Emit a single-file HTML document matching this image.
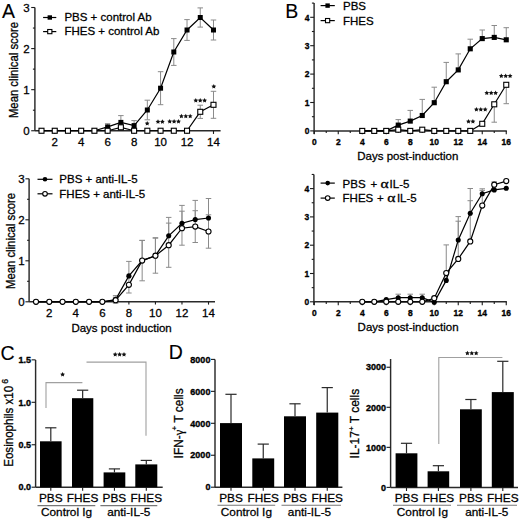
<!DOCTYPE html><html><head><meta charset="utf-8"><style>html,body{margin:0;padding:0;background:#fff;}svg{display:block;} text{stroke:#000;stroke-width:0.28px;} text.b{stroke-width:0.35px;} text.n{stroke-width:0.1px;}</style></head><body>
<svg width="520" height="520" viewBox="0 0 520 520" font-family='"Liberation Sans", sans-serif' fill="#000">
<rect width="520" height="520" fill="#fff"/>
<text x="2.00" y="17.50" font-size="19.5" text-anchor="start" font-weight="normal" class="n">A</text>
<line x1="34.90" y1="7.51" x2="34.90" y2="130.75" stroke="#2a2a2a" stroke-width="1.45"/>
<line x1="31.20" y1="130.75" x2="34.90" y2="130.75" stroke="#1a1a1a" stroke-width="1.1"/>
<text x="29.60" y="134.85" font-size="11.5" text-anchor="end" font-weight="normal" >0</text>
<line x1="31.20" y1="89.67" x2="34.90" y2="89.67" stroke="#1a1a1a" stroke-width="1.1"/>
<text x="29.60" y="93.77" font-size="11.5" text-anchor="end" font-weight="normal" >1</text>
<line x1="31.20" y1="48.59" x2="34.90" y2="48.59" stroke="#1a1a1a" stroke-width="1.1"/>
<text x="29.60" y="52.69" font-size="11.5" text-anchor="end" font-weight="normal" >2</text>
<line x1="31.20" y1="7.51" x2="34.90" y2="7.51" stroke="#1a1a1a" stroke-width="1.1"/>
<text x="29.60" y="11.61" font-size="11.5" text-anchor="end" font-weight="normal" >3</text>
<line x1="32.90" y1="110.21" x2="34.90" y2="110.21" stroke="#1a1a1a" stroke-width="1.1"/>
<line x1="32.90" y1="69.13" x2="34.90" y2="69.13" stroke="#1a1a1a" stroke-width="1.1"/>
<line x1="32.90" y1="28.05" x2="34.90" y2="28.05" stroke="#1a1a1a" stroke-width="1.1"/>
<line x1="34.90" y1="130.75" x2="220.60" y2="130.75" stroke="#2a2a2a" stroke-width="1.45"/>
<line x1="54.73" y1="130.75" x2="54.73" y2="133.95" stroke="#1a1a1a" stroke-width="1.1"/>
<text x="54.73" y="146.30" font-size="11.5" text-anchor="middle" font-weight="normal" >2</text>
<line x1="81.19" y1="130.75" x2="81.19" y2="133.95" stroke="#1a1a1a" stroke-width="1.1"/>
<text x="81.19" y="146.30" font-size="11.5" text-anchor="middle" font-weight="normal" >4</text>
<line x1="107.65" y1="130.75" x2="107.65" y2="133.95" stroke="#1a1a1a" stroke-width="1.1"/>
<text x="107.65" y="146.30" font-size="11.5" text-anchor="middle" font-weight="normal" >6</text>
<line x1="134.11" y1="130.75" x2="134.11" y2="133.95" stroke="#1a1a1a" stroke-width="1.1"/>
<text x="134.11" y="146.30" font-size="11.5" text-anchor="middle" font-weight="normal" >8</text>
<line x1="160.57" y1="130.75" x2="160.57" y2="133.95" stroke="#1a1a1a" stroke-width="1.1"/>
<text x="160.57" y="146.30" font-size="11.5" text-anchor="middle" font-weight="normal" >10</text>
<line x1="187.03" y1="130.75" x2="187.03" y2="133.95" stroke="#1a1a1a" stroke-width="1.1"/>
<text x="187.03" y="146.30" font-size="11.5" text-anchor="middle" font-weight="normal" >12</text>
<line x1="213.49" y1="130.75" x2="213.49" y2="133.95" stroke="#1a1a1a" stroke-width="1.1"/>
<text x="213.49" y="146.30" font-size="11.5" text-anchor="middle" font-weight="normal" >14</text>
<text x="0.00" y="0.00" font-size="12.1" text-anchor="middle" font-weight="normal" transform="translate(18.2,70) rotate(-90) scale(0.935,1)">Mean clinical score</text>
<line x1="43.10" y1="17.50" x2="56.30" y2="17.50" stroke="#000" stroke-width="1.2"/>
<rect x="47.60" y="15.30" width="4.4" height="4.4" fill="#000"/>
<text x="64.40" y="21.20" font-size="11.5" text-anchor="start" font-weight="normal" >PBS + control Ab</text>
<line x1="43.10" y1="31.60" x2="56.30" y2="31.60" stroke="#000" stroke-width="1.2"/>
<rect x="47.70" y="29.50" width="4.2" height="4.2" fill="#fff" stroke="#000" stroke-width="1.1"/>
<text x="64.40" y="35.10" font-size="11.5" text-anchor="start" font-weight="normal" >FHES + control Ab</text>
<line x1="107.65" y1="126.90" x2="107.65" y2="123.70" stroke="#8a8a8a" stroke-width="1.0"/>
<line x1="104.90" y1="123.70" x2="110.40" y2="123.70" stroke="#8a8a8a" stroke-width="1.0"/>
<line x1="107.65" y1="126.90" x2="107.65" y2="130.10" stroke="#8a8a8a" stroke-width="1.0"/>
<line x1="104.90" y1="130.10" x2="110.40" y2="130.10" stroke="#8a8a8a" stroke-width="1.0"/>
<line x1="120.88" y1="122.40" x2="120.88" y2="115.60" stroke="#8a8a8a" stroke-width="1.0"/>
<line x1="118.13" y1="115.60" x2="123.63" y2="115.60" stroke="#8a8a8a" stroke-width="1.0"/>
<line x1="120.88" y1="122.40" x2="120.88" y2="129.20" stroke="#8a8a8a" stroke-width="1.0"/>
<line x1="118.13" y1="129.20" x2="123.63" y2="129.20" stroke="#8a8a8a" stroke-width="1.0"/>
<line x1="134.11" y1="125.60" x2="134.11" y2="120.60" stroke="#8a8a8a" stroke-width="1.0"/>
<line x1="131.36" y1="120.60" x2="136.86" y2="120.60" stroke="#8a8a8a" stroke-width="1.0"/>
<line x1="134.11" y1="125.60" x2="134.11" y2="130.60" stroke="#8a8a8a" stroke-width="1.0"/>
<line x1="131.36" y1="130.60" x2="136.86" y2="130.60" stroke="#8a8a8a" stroke-width="1.0"/>
<line x1="147.34" y1="110.00" x2="147.34" y2="100.20" stroke="#8a8a8a" stroke-width="1.0"/>
<line x1="144.59" y1="100.20" x2="150.09" y2="100.20" stroke="#8a8a8a" stroke-width="1.0"/>
<line x1="147.34" y1="110.00" x2="147.34" y2="119.80" stroke="#8a8a8a" stroke-width="1.0"/>
<line x1="144.59" y1="119.80" x2="150.09" y2="119.80" stroke="#8a8a8a" stroke-width="1.0"/>
<line x1="160.57" y1="88.20" x2="160.57" y2="71.70" stroke="#8a8a8a" stroke-width="1.0"/>
<line x1="157.82" y1="71.70" x2="163.32" y2="71.70" stroke="#8a8a8a" stroke-width="1.0"/>
<line x1="160.57" y1="88.20" x2="160.57" y2="104.70" stroke="#8a8a8a" stroke-width="1.0"/>
<line x1="157.82" y1="104.70" x2="163.32" y2="104.70" stroke="#8a8a8a" stroke-width="1.0"/>
<line x1="173.80" y1="52.00" x2="173.80" y2="38.60" stroke="#8a8a8a" stroke-width="1.0"/>
<line x1="171.05" y1="38.60" x2="176.55" y2="38.60" stroke="#8a8a8a" stroke-width="1.0"/>
<line x1="173.80" y1="52.00" x2="173.80" y2="65.40" stroke="#8a8a8a" stroke-width="1.0"/>
<line x1="171.05" y1="65.40" x2="176.55" y2="65.40" stroke="#8a8a8a" stroke-width="1.0"/>
<line x1="187.03" y1="30.00" x2="187.03" y2="19.60" stroke="#8a8a8a" stroke-width="1.0"/>
<line x1="184.28" y1="19.60" x2="189.78" y2="19.60" stroke="#8a8a8a" stroke-width="1.0"/>
<line x1="187.03" y1="30.00" x2="187.03" y2="40.40" stroke="#8a8a8a" stroke-width="1.0"/>
<line x1="184.28" y1="40.40" x2="189.78" y2="40.40" stroke="#8a8a8a" stroke-width="1.0"/>
<line x1="200.26" y1="17.50" x2="200.26" y2="7.90" stroke="#8a8a8a" stroke-width="1.0"/>
<line x1="197.51" y1="7.90" x2="203.01" y2="7.90" stroke="#8a8a8a" stroke-width="1.0"/>
<line x1="200.26" y1="17.50" x2="200.26" y2="27.10" stroke="#8a8a8a" stroke-width="1.0"/>
<line x1="197.51" y1="27.10" x2="203.01" y2="27.10" stroke="#8a8a8a" stroke-width="1.0"/>
<line x1="213.49" y1="30.00" x2="213.49" y2="20.00" stroke="#8a8a8a" stroke-width="1.0"/>
<line x1="210.74" y1="20.00" x2="216.24" y2="20.00" stroke="#8a8a8a" stroke-width="1.0"/>
<line x1="213.49" y1="30.00" x2="213.49" y2="40.00" stroke="#8a8a8a" stroke-width="1.0"/>
<line x1="210.74" y1="40.00" x2="216.24" y2="40.00" stroke="#8a8a8a" stroke-width="1.0"/>
<line x1="200.26" y1="111.80" x2="200.26" y2="105.20" stroke="#8a8a8a" stroke-width="1.0"/>
<line x1="197.51" y1="105.20" x2="203.01" y2="105.20" stroke="#8a8a8a" stroke-width="1.0"/>
<line x1="200.26" y1="111.80" x2="200.26" y2="118.40" stroke="#8a8a8a" stroke-width="1.0"/>
<line x1="197.51" y1="118.40" x2="203.01" y2="118.40" stroke="#8a8a8a" stroke-width="1.0"/>
<line x1="213.49" y1="104.80" x2="213.49" y2="91.30" stroke="#8a8a8a" stroke-width="1.0"/>
<line x1="210.74" y1="91.30" x2="216.24" y2="91.30" stroke="#8a8a8a" stroke-width="1.0"/>
<line x1="213.49" y1="104.80" x2="213.49" y2="118.30" stroke="#8a8a8a" stroke-width="1.0"/>
<line x1="210.74" y1="118.30" x2="216.24" y2="118.30" stroke="#8a8a8a" stroke-width="1.0"/>
<polyline points="41.50,130.75 54.73,130.75 67.96,130.75 81.19,130.75 94.42,130.75 107.65,126.90 120.88,122.40 134.11,125.60 147.34,110.00 160.57,88.20 173.80,52.00 187.03,30.00 200.26,17.50 213.49,30.00" fill="none" stroke="#000" stroke-width="1.2" stroke-linejoin="miter"/>
<polyline points="41.50,130.75 54.73,130.75 67.96,130.75 81.19,130.75 94.42,130.75 107.65,130.75 120.88,127.30 134.11,130.75 147.34,130.75 160.57,130.75 173.80,130.75 187.03,130.75 200.26,111.80 213.49,104.80" fill="none" stroke="#000" stroke-width="1.2" stroke-linejoin="miter"/>
<rect x="39.00" y="128.25" width="5.0" height="5.0" fill="#000"/>
<rect x="52.23" y="128.25" width="5.0" height="5.0" fill="#000"/>
<rect x="65.46" y="128.25" width="5.0" height="5.0" fill="#000"/>
<rect x="78.69" y="128.25" width="5.0" height="5.0" fill="#000"/>
<rect x="91.92" y="128.25" width="5.0" height="5.0" fill="#000"/>
<rect x="105.15" y="124.40" width="5.0" height="5.0" fill="#000"/>
<rect x="118.38" y="119.90" width="5.0" height="5.0" fill="#000"/>
<rect x="131.61" y="123.10" width="5.0" height="5.0" fill="#000"/>
<rect x="144.84" y="107.50" width="5.0" height="5.0" fill="#000"/>
<rect x="158.07" y="85.70" width="5.0" height="5.0" fill="#000"/>
<rect x="171.30" y="49.50" width="5.0" height="5.0" fill="#000"/>
<rect x="184.53" y="27.50" width="5.0" height="5.0" fill="#000"/>
<rect x="197.76" y="15.00" width="5.0" height="5.0" fill="#000"/>
<rect x="210.99" y="27.50" width="5.0" height="5.0" fill="#000"/>
<rect x="39.00" y="128.25" width="5.0" height="5.0" fill="#fff" stroke="#000" stroke-width="1.1"/>
<rect x="52.23" y="128.25" width="5.0" height="5.0" fill="#fff" stroke="#000" stroke-width="1.1"/>
<rect x="65.46" y="128.25" width="5.0" height="5.0" fill="#fff" stroke="#000" stroke-width="1.1"/>
<rect x="78.69" y="128.25" width="5.0" height="5.0" fill="#fff" stroke="#000" stroke-width="1.1"/>
<rect x="91.92" y="128.25" width="5.0" height="5.0" fill="#fff" stroke="#000" stroke-width="1.1"/>
<rect x="105.15" y="128.25" width="5.0" height="5.0" fill="#fff" stroke="#000" stroke-width="1.1"/>
<rect x="118.38" y="124.80" width="5.0" height="5.0" fill="#fff" stroke="#000" stroke-width="1.1"/>
<rect x="131.61" y="128.25" width="5.0" height="5.0" fill="#fff" stroke="#000" stroke-width="1.1"/>
<rect x="144.84" y="128.25" width="5.0" height="5.0" fill="#fff" stroke="#000" stroke-width="1.1"/>
<rect x="158.07" y="128.25" width="5.0" height="5.0" fill="#fff" stroke="#000" stroke-width="1.1"/>
<rect x="171.30" y="128.25" width="5.0" height="5.0" fill="#fff" stroke="#000" stroke-width="1.1"/>
<rect x="184.53" y="128.25" width="5.0" height="5.0" fill="#fff" stroke="#000" stroke-width="1.1"/>
<rect x="197.76" y="109.30" width="5.0" height="5.0" fill="#fff" stroke="#000" stroke-width="1.1"/>
<rect x="210.99" y="102.30" width="5.0" height="5.0" fill="#fff" stroke="#000" stroke-width="1.1"/>
<polygon points="147.20,121.00 147.93,122.49 149.58,122.73 148.39,123.89 148.67,125.52 147.20,124.75 145.73,125.52 146.01,123.89 144.82,122.73 146.47,122.49" fill="#111"/>
<polygon points="158.00,119.30 158.73,120.79 160.38,121.03 159.19,122.19 159.47,123.82 158.00,123.05 156.53,123.82 156.81,122.19 155.62,121.03 157.27,120.79" fill="#111"/>
<polygon points="162.40,119.30 163.13,120.79 164.78,121.03 163.59,122.19 163.87,123.82 162.40,123.05 160.93,123.82 161.21,122.19 160.02,121.03 161.67,120.79" fill="#111"/>
<polygon points="169.70,119.00 170.43,120.49 172.08,120.73 170.89,121.89 171.17,123.52 169.70,122.75 168.23,123.52 168.51,121.89 167.32,120.73 168.97,120.49" fill="#111"/>
<polygon points="174.10,119.00 174.83,120.49 176.48,120.73 175.29,121.89 175.57,123.52 174.10,122.75 172.63,123.52 172.91,121.89 171.72,120.73 173.37,120.49" fill="#111"/>
<polygon points="178.50,119.00 179.23,120.49 180.88,120.73 179.69,121.89 179.97,123.52 178.50,122.75 177.03,123.52 177.31,121.89 176.12,120.73 177.77,120.49" fill="#111"/>
<polygon points="181.40,113.70 182.13,115.19 183.78,115.43 182.59,116.59 182.87,118.22 181.40,117.45 179.93,118.22 180.21,116.59 179.02,115.43 180.67,115.19" fill="#111"/>
<polygon points="185.80,113.70 186.53,115.19 188.18,115.43 186.99,116.59 187.27,118.22 185.80,117.45 184.33,118.22 184.61,116.59 183.42,115.43 185.07,115.19" fill="#111"/>
<polygon points="190.20,113.70 190.93,115.19 192.58,115.43 191.39,116.59 191.67,118.22 190.20,117.45 188.73,118.22 189.01,116.59 187.82,115.43 189.47,115.19" fill="#111"/>
<polygon points="195.80,98.00 196.53,99.49 198.18,99.73 196.99,100.89 197.27,102.52 195.80,101.75 194.33,102.52 194.61,100.89 193.42,99.73 195.07,99.49" fill="#111"/>
<polygon points="200.20,98.00 200.93,99.49 202.58,99.73 201.39,100.89 201.67,102.52 200.20,101.75 198.73,102.52 199.01,100.89 197.82,99.73 199.47,99.49" fill="#111"/>
<polygon points="204.60,98.00 205.33,99.49 206.98,99.73 205.79,100.89 206.07,102.52 204.60,101.75 203.13,102.52 203.41,100.89 202.22,99.73 203.87,99.49" fill="#111"/>
<polygon points="213.80,84.00 214.53,85.49 216.18,85.73 214.99,86.89 215.27,88.52 213.80,87.75 212.33,88.52 212.61,86.89 211.42,85.73 213.07,85.49" fill="#111"/>
<text x="285.20" y="17.60" font-size="19.5" text-anchor="start" font-weight="normal" class="n">B</text>
<line x1="314.10" y1="3.10" x2="314.10" y2="134.10" stroke="#2a2a2a" stroke-width="1.45"/>
<line x1="310.20" y1="130.90" x2="314.10" y2="130.90" stroke="#1a1a1a" stroke-width="1.1"/>
<text transform="translate(309.50,134.10) scale(0.88,1)" font-size="9.6" text-anchor="end" font-weight="bold" class="b">0</text>
<line x1="310.20" y1="102.50" x2="314.10" y2="102.50" stroke="#1a1a1a" stroke-width="1.1"/>
<text transform="translate(309.50,105.70) scale(0.88,1)" font-size="9.6" text-anchor="end" font-weight="bold" class="b">1</text>
<line x1="310.20" y1="74.10" x2="314.10" y2="74.10" stroke="#1a1a1a" stroke-width="1.1"/>
<text transform="translate(309.50,77.30) scale(0.88,1)" font-size="9.6" text-anchor="end" font-weight="bold" class="b">2</text>
<line x1="310.20" y1="45.70" x2="314.10" y2="45.70" stroke="#1a1a1a" stroke-width="1.1"/>
<text transform="translate(309.50,48.90) scale(0.88,1)" font-size="9.6" text-anchor="end" font-weight="bold" class="b">3</text>
<line x1="310.20" y1="17.30" x2="314.10" y2="17.30" stroke="#1a1a1a" stroke-width="1.1"/>
<text transform="translate(309.50,20.50) scale(0.88,1)" font-size="9.6" text-anchor="end" font-weight="bold" class="b">4</text>
<line x1="311.90" y1="116.70" x2="314.10" y2="116.70" stroke="#1a1a1a" stroke-width="1.1"/>
<line x1="311.90" y1="88.30" x2="314.10" y2="88.30" stroke="#1a1a1a" stroke-width="1.1"/>
<line x1="311.90" y1="59.90" x2="314.10" y2="59.90" stroke="#1a1a1a" stroke-width="1.1"/>
<line x1="311.90" y1="31.50" x2="314.10" y2="31.50" stroke="#1a1a1a" stroke-width="1.1"/>
<line x1="311.90" y1="3.10" x2="314.10" y2="3.10" stroke="#1a1a1a" stroke-width="1.1"/>
<line x1="314.10" y1="130.90" x2="506.85" y2="130.90" stroke="#2a2a2a" stroke-width="1.45"/>
<line x1="314.25" y1="130.90" x2="314.25" y2="134.30" stroke="#1a1a1a" stroke-width="1.1"/>
<text transform="translate(314.25,145.00) scale(0.88,1)" font-size="9.6" text-anchor="middle" font-weight="bold" class="b">0</text>
<line x1="326.25" y1="130.90" x2="326.25" y2="133.10" stroke="#1a1a1a" stroke-width="1.1"/>
<line x1="338.25" y1="130.90" x2="338.25" y2="134.30" stroke="#1a1a1a" stroke-width="1.1"/>
<text transform="translate(338.25,145.00) scale(0.88,1)" font-size="9.6" text-anchor="middle" font-weight="bold" class="b">2</text>
<line x1="350.25" y1="130.90" x2="350.25" y2="133.10" stroke="#1a1a1a" stroke-width="1.1"/>
<line x1="362.25" y1="130.90" x2="362.25" y2="134.30" stroke="#1a1a1a" stroke-width="1.1"/>
<text transform="translate(362.25,145.00) scale(0.88,1)" font-size="9.6" text-anchor="middle" font-weight="bold" class="b">4</text>
<line x1="374.25" y1="130.90" x2="374.25" y2="133.10" stroke="#1a1a1a" stroke-width="1.1"/>
<line x1="386.25" y1="130.90" x2="386.25" y2="134.30" stroke="#1a1a1a" stroke-width="1.1"/>
<text transform="translate(386.25,145.00) scale(0.88,1)" font-size="9.6" text-anchor="middle" font-weight="bold" class="b">6</text>
<line x1="398.25" y1="130.90" x2="398.25" y2="133.10" stroke="#1a1a1a" stroke-width="1.1"/>
<line x1="410.25" y1="130.90" x2="410.25" y2="134.30" stroke="#1a1a1a" stroke-width="1.1"/>
<text transform="translate(410.25,145.00) scale(0.88,1)" font-size="9.6" text-anchor="middle" font-weight="bold" class="b">8</text>
<line x1="422.25" y1="130.90" x2="422.25" y2="133.10" stroke="#1a1a1a" stroke-width="1.1"/>
<line x1="434.25" y1="130.90" x2="434.25" y2="134.30" stroke="#1a1a1a" stroke-width="1.1"/>
<text transform="translate(434.25,145.00) scale(0.88,1)" font-size="9.6" text-anchor="middle" font-weight="bold" class="b">10</text>
<line x1="446.25" y1="130.90" x2="446.25" y2="133.10" stroke="#1a1a1a" stroke-width="1.1"/>
<line x1="458.25" y1="130.90" x2="458.25" y2="134.30" stroke="#1a1a1a" stroke-width="1.1"/>
<text transform="translate(458.25,145.00) scale(0.88,1)" font-size="9.6" text-anchor="middle" font-weight="bold" class="b">12</text>
<line x1="470.25" y1="130.90" x2="470.25" y2="133.10" stroke="#1a1a1a" stroke-width="1.1"/>
<line x1="482.25" y1="130.90" x2="482.25" y2="134.30" stroke="#1a1a1a" stroke-width="1.1"/>
<text transform="translate(482.25,145.00) scale(0.88,1)" font-size="9.6" text-anchor="middle" font-weight="bold" class="b">14</text>
<line x1="494.25" y1="130.90" x2="494.25" y2="133.10" stroke="#1a1a1a" stroke-width="1.1"/>
<line x1="506.25" y1="130.90" x2="506.25" y2="134.30" stroke="#1a1a1a" stroke-width="1.1"/>
<text transform="translate(506.25,145.00) scale(0.88,1)" font-size="9.6" text-anchor="middle" font-weight="bold" class="b">16</text>
<text x="357.30" y="159.90" font-size="11.5" text-anchor="start" font-weight="normal" >Days post-induction</text>
<line x1="320.60" y1="5.60" x2="334.80" y2="5.60" stroke="#000" stroke-width="1.2"/>
<rect x="325.40" y="3.40" width="4.4" height="4.4" fill="#000"/>
<text x="343.00" y="9.60" font-size="11.5" text-anchor="start" font-weight="normal" >PBS</text>
<line x1="320.60" y1="20.60" x2="334.80" y2="20.60" stroke="#000" stroke-width="1.2"/>
<rect x="325.50" y="18.50" width="4.2" height="4.2" fill="#fff" stroke="#000" stroke-width="1.1"/>
<text x="343.00" y="24.60" font-size="11.5" text-anchor="start" font-weight="normal" >FHES</text>
<line x1="398.25" y1="125.10" x2="398.25" y2="119.60" stroke="#8a8a8a" stroke-width="1.0"/>
<line x1="395.50" y1="119.60" x2="401.00" y2="119.60" stroke="#8a8a8a" stroke-width="1.0"/>
<line x1="410.25" y1="121.10" x2="410.25" y2="110.40" stroke="#8a8a8a" stroke-width="1.0"/>
<line x1="407.50" y1="110.40" x2="413.00" y2="110.40" stroke="#8a8a8a" stroke-width="1.0"/>
<line x1="422.25" y1="115.50" x2="422.25" y2="99.40" stroke="#8a8a8a" stroke-width="1.0"/>
<line x1="419.50" y1="99.40" x2="425.00" y2="99.40" stroke="#8a8a8a" stroke-width="1.0"/>
<line x1="434.25" y1="102.70" x2="434.25" y2="87.20" stroke="#8a8a8a" stroke-width="1.0"/>
<line x1="431.50" y1="87.20" x2="437.00" y2="87.20" stroke="#8a8a8a" stroke-width="1.0"/>
<line x1="446.25" y1="81.70" x2="446.25" y2="62.40" stroke="#8a8a8a" stroke-width="1.0"/>
<line x1="443.50" y1="62.40" x2="449.00" y2="62.40" stroke="#8a8a8a" stroke-width="1.0"/>
<line x1="458.25" y1="69.90" x2="458.25" y2="53.90" stroke="#8a8a8a" stroke-width="1.0"/>
<line x1="455.50" y1="53.90" x2="461.00" y2="53.90" stroke="#8a8a8a" stroke-width="1.0"/>
<line x1="470.25" y1="48.80" x2="470.25" y2="39.20" stroke="#8a8a8a" stroke-width="1.0"/>
<line x1="467.50" y1="39.20" x2="473.00" y2="39.20" stroke="#8a8a8a" stroke-width="1.0"/>
<line x1="482.25" y1="38.60" x2="482.25" y2="30.00" stroke="#8a8a8a" stroke-width="1.0"/>
<line x1="479.50" y1="30.00" x2="485.00" y2="30.00" stroke="#8a8a8a" stroke-width="1.0"/>
<line x1="494.25" y1="37.40" x2="494.25" y2="25.50" stroke="#8a8a8a" stroke-width="1.0"/>
<line x1="491.50" y1="25.50" x2="497.00" y2="25.50" stroke="#8a8a8a" stroke-width="1.0"/>
<line x1="506.25" y1="39.80" x2="506.25" y2="27.70" stroke="#8a8a8a" stroke-width="1.0"/>
<line x1="503.50" y1="27.70" x2="509.00" y2="27.70" stroke="#8a8a8a" stroke-width="1.0"/>
<line x1="494.25" y1="104.30" x2="494.25" y2="122.20" stroke="#8a8a8a" stroke-width="1.0"/>
<line x1="491.50" y1="122.20" x2="497.00" y2="122.20" stroke="#8a8a8a" stroke-width="1.0"/>
<line x1="506.25" y1="84.80" x2="506.25" y2="103.70" stroke="#8a8a8a" stroke-width="1.0"/>
<line x1="503.50" y1="103.70" x2="509.00" y2="103.70" stroke="#8a8a8a" stroke-width="1.0"/>
<polyline points="362.25,130.90 374.25,130.90 386.25,130.90 398.25,125.10 410.25,121.10 422.25,115.50 434.25,102.70 446.25,81.70 458.25,69.90 470.25,48.80 482.25,38.60 494.25,37.40 506.25,39.80" fill="none" stroke="#000" stroke-width="1.2" stroke-linejoin="miter"/>
<polyline points="362.25,130.90 374.25,130.90 386.25,130.90 398.25,129.70 410.25,130.90 422.25,129.70 434.25,130.90 446.25,130.90 458.25,130.90 470.25,130.90 482.25,123.80 494.25,104.30 506.25,84.80" fill="none" stroke="#000" stroke-width="1.2" stroke-linejoin="miter"/>
<rect x="359.70" y="128.35" width="5.1" height="5.1" fill="#000"/>
<rect x="371.70" y="128.35" width="5.1" height="5.1" fill="#000"/>
<rect x="383.70" y="128.35" width="5.1" height="5.1" fill="#000"/>
<rect x="395.70" y="122.55" width="5.1" height="5.1" fill="#000"/>
<rect x="407.70" y="118.55" width="5.1" height="5.1" fill="#000"/>
<rect x="419.70" y="112.95" width="5.1" height="5.1" fill="#000"/>
<rect x="431.70" y="100.15" width="5.1" height="5.1" fill="#000"/>
<rect x="443.70" y="79.15" width="5.1" height="5.1" fill="#000"/>
<rect x="455.70" y="67.35" width="5.1" height="5.1" fill="#000"/>
<rect x="467.70" y="46.25" width="5.1" height="5.1" fill="#000"/>
<rect x="479.70" y="36.05" width="5.1" height="5.1" fill="#000"/>
<rect x="491.70" y="34.85" width="5.1" height="5.1" fill="#000"/>
<rect x="503.70" y="37.25" width="5.1" height="5.1" fill="#000"/>
<rect x="359.75" y="128.40" width="5.0" height="5.0" fill="#fff" stroke="#000" stroke-width="1.1"/>
<rect x="371.75" y="128.40" width="5.0" height="5.0" fill="#fff" stroke="#000" stroke-width="1.1"/>
<rect x="383.75" y="128.40" width="5.0" height="5.0" fill="#fff" stroke="#000" stroke-width="1.1"/>
<rect x="395.75" y="127.20" width="5.0" height="5.0" fill="#fff" stroke="#000" stroke-width="1.1"/>
<rect x="407.75" y="128.40" width="5.0" height="5.0" fill="#fff" stroke="#000" stroke-width="1.1"/>
<rect x="419.75" y="127.20" width="5.0" height="5.0" fill="#fff" stroke="#000" stroke-width="1.1"/>
<rect x="431.75" y="128.40" width="5.0" height="5.0" fill="#fff" stroke="#000" stroke-width="1.1"/>
<rect x="443.75" y="128.40" width="5.0" height="5.0" fill="#fff" stroke="#000" stroke-width="1.1"/>
<rect x="455.75" y="128.40" width="5.0" height="5.0" fill="#fff" stroke="#000" stroke-width="1.1"/>
<rect x="467.75" y="128.40" width="5.0" height="5.0" fill="#fff" stroke="#000" stroke-width="1.1"/>
<rect x="479.75" y="121.30" width="5.0" height="5.0" fill="#fff" stroke="#000" stroke-width="1.1"/>
<rect x="491.75" y="101.80" width="5.0" height="5.0" fill="#fff" stroke="#000" stroke-width="1.1"/>
<rect x="503.75" y="82.30" width="5.0" height="5.0" fill="#fff" stroke="#000" stroke-width="1.1"/>
<polygon points="468.50,119.10 469.23,120.59 470.88,120.83 469.69,121.99 469.97,123.62 468.50,122.85 467.03,123.62 467.31,121.99 466.12,120.83 467.77,120.59" fill="#111"/>
<polygon points="472.90,119.10 473.63,120.59 475.28,120.83 474.09,121.99 474.37,123.62 472.90,122.85 471.43,123.62 471.71,121.99 470.52,120.83 472.17,120.59" fill="#111"/>
<polygon points="476.40,107.00 477.13,108.49 478.78,108.73 477.59,109.89 477.87,111.52 476.40,110.75 474.93,111.52 475.21,109.89 474.02,108.73 475.67,108.49" fill="#111"/>
<polygon points="480.80,107.00 481.53,108.49 483.18,108.73 481.99,109.89 482.27,111.52 480.80,110.75 479.33,111.52 479.61,109.89 478.42,108.73 480.07,108.49" fill="#111"/>
<polygon points="485.20,107.00 485.93,108.49 487.58,108.73 486.39,109.89 486.67,111.52 485.20,110.75 483.73,111.52 484.01,109.89 482.82,108.73 484.47,108.49" fill="#111"/>
<polygon points="486.80,90.50 487.53,91.99 489.18,92.23 487.99,93.39 488.27,95.02 486.80,94.25 485.33,95.02 485.61,93.39 484.42,92.23 486.07,91.99" fill="#111"/>
<polygon points="491.20,90.50 491.93,91.99 493.58,92.23 492.39,93.39 492.67,95.02 491.20,94.25 489.73,95.02 490.01,93.39 488.82,92.23 490.47,91.99" fill="#111"/>
<polygon points="495.60,90.50 496.33,91.99 497.98,92.23 496.79,93.39 497.07,95.02 495.60,94.25 494.13,95.02 494.41,93.39 493.22,92.23 494.87,91.99" fill="#111"/>
<polygon points="501.30,73.60 502.03,75.09 503.68,75.33 502.49,76.49 502.77,78.12 501.30,77.35 499.83,78.12 500.11,76.49 498.92,75.33 500.57,75.09" fill="#111"/>
<polygon points="505.70,73.60 506.43,75.09 508.08,75.33 506.89,76.49 507.17,78.12 505.70,77.35 504.23,78.12 504.51,76.49 503.32,75.33 504.97,75.09" fill="#111"/>
<polygon points="510.10,73.60 510.83,75.09 512.48,75.33 511.29,76.49 511.57,78.12 510.10,77.35 508.63,78.12 508.91,76.49 507.72,75.33 509.37,75.09" fill="#111"/>
<line x1="29.10" y1="178.80" x2="29.10" y2="301.80" stroke="#2a2a2a" stroke-width="1.45"/>
<line x1="25.40" y1="301.80" x2="29.10" y2="301.80" stroke="#1a1a1a" stroke-width="1.1"/>
<text x="24.60" y="305.90" font-size="11.5" text-anchor="end" font-weight="normal" >0</text>
<line x1="25.40" y1="260.80" x2="29.10" y2="260.80" stroke="#1a1a1a" stroke-width="1.1"/>
<text x="24.60" y="264.90" font-size="11.5" text-anchor="end" font-weight="normal" >1</text>
<line x1="25.40" y1="219.80" x2="29.10" y2="219.80" stroke="#1a1a1a" stroke-width="1.1"/>
<text x="24.60" y="223.90" font-size="11.5" text-anchor="end" font-weight="normal" >2</text>
<line x1="25.40" y1="178.80" x2="29.10" y2="178.80" stroke="#1a1a1a" stroke-width="1.1"/>
<text x="24.60" y="182.90" font-size="11.5" text-anchor="end" font-weight="normal" >3</text>
<line x1="27.10" y1="281.30" x2="29.10" y2="281.30" stroke="#1a1a1a" stroke-width="1.1"/>
<line x1="27.10" y1="240.30" x2="29.10" y2="240.30" stroke="#1a1a1a" stroke-width="1.1"/>
<line x1="27.10" y1="199.30" x2="29.10" y2="199.30" stroke="#1a1a1a" stroke-width="1.1"/>
<line x1="29.10" y1="301.80" x2="215.00" y2="301.80" stroke="#2a2a2a" stroke-width="1.45"/>
<line x1="49.27" y1="301.80" x2="49.27" y2="304.60" stroke="#1a1a1a" stroke-width="1.1"/>
<text x="49.27" y="317.20" font-size="11.5" text-anchor="middle" font-weight="normal" >2</text>
<line x1="75.81" y1="301.80" x2="75.81" y2="304.60" stroke="#1a1a1a" stroke-width="1.1"/>
<text x="75.81" y="317.20" font-size="11.5" text-anchor="middle" font-weight="normal" >4</text>
<line x1="102.35" y1="301.80" x2="102.35" y2="304.60" stroke="#1a1a1a" stroke-width="1.1"/>
<text x="102.35" y="317.20" font-size="11.5" text-anchor="middle" font-weight="normal" >6</text>
<line x1="128.89" y1="301.80" x2="128.89" y2="304.60" stroke="#1a1a1a" stroke-width="1.1"/>
<text x="128.89" y="317.20" font-size="11.5" text-anchor="middle" font-weight="normal" >8</text>
<line x1="155.43" y1="301.80" x2="155.43" y2="304.60" stroke="#1a1a1a" stroke-width="1.1"/>
<text x="155.43" y="317.20" font-size="11.5" text-anchor="middle" font-weight="normal" >10</text>
<line x1="181.97" y1="301.80" x2="181.97" y2="304.60" stroke="#1a1a1a" stroke-width="1.1"/>
<text x="181.97" y="317.20" font-size="11.5" text-anchor="middle" font-weight="normal" >12</text>
<line x1="208.51" y1="301.80" x2="208.51" y2="304.60" stroke="#1a1a1a" stroke-width="1.1"/>
<text x="208.51" y="317.20" font-size="11.5" text-anchor="middle" font-weight="normal" >14</text>
<text x="71.40" y="332.40" font-size="11.5" text-anchor="start" font-weight="normal" >Days post induction</text>
<text x="0.00" y="0.00" font-size="12.1" text-anchor="middle" font-weight="normal" transform="translate(14.8,240.9) rotate(-90) scale(0.935,1)">Mean clinical score</text>
<line x1="37.50" y1="179.30" x2="52.50" y2="179.30" stroke="#000" stroke-width="1.2"/>
<circle cx="45.00" cy="179.30" r="2.3" fill="#000"/>
<text x="59.30" y="183.40" font-size="11.5" text-anchor="start" font-weight="normal" >PBS + anti-IL-5</text>
<line x1="37.50" y1="193.80" x2="52.50" y2="193.80" stroke="#000" stroke-width="1.2"/>
<circle cx="45.00" cy="193.80" r="2.3" fill="#fff" stroke="#000" stroke-width="1.1"/>
<text x="59.30" y="197.90" font-size="11.5" text-anchor="start" font-weight="normal" >FHES + anti-IL-5</text>
<line x1="115.62" y1="299.60" x2="115.62" y2="295.60" stroke="#8a8a8a" stroke-width="1.0"/>
<line x1="112.87" y1="295.60" x2="118.37" y2="295.60" stroke="#8a8a8a" stroke-width="1.0"/>
<line x1="128.89" y1="275.90" x2="128.89" y2="261.40" stroke="#8a8a8a" stroke-width="1.0"/>
<line x1="126.14" y1="261.40" x2="131.64" y2="261.40" stroke="#8a8a8a" stroke-width="1.0"/>
<line x1="142.16" y1="260.60" x2="142.16" y2="240.40" stroke="#8a8a8a" stroke-width="1.0"/>
<line x1="139.41" y1="240.40" x2="144.91" y2="240.40" stroke="#8a8a8a" stroke-width="1.0"/>
<line x1="155.43" y1="255.70" x2="155.43" y2="237.70" stroke="#8a8a8a" stroke-width="1.0"/>
<line x1="152.68" y1="237.70" x2="158.18" y2="237.70" stroke="#8a8a8a" stroke-width="1.0"/>
<line x1="168.70" y1="235.80" x2="168.70" y2="217.40" stroke="#8a8a8a" stroke-width="1.0"/>
<line x1="165.95" y1="217.40" x2="171.45" y2="217.40" stroke="#8a8a8a" stroke-width="1.0"/>
<line x1="181.97" y1="223.20" x2="181.97" y2="205.40" stroke="#8a8a8a" stroke-width="1.0"/>
<line x1="179.22" y1="205.40" x2="184.72" y2="205.40" stroke="#8a8a8a" stroke-width="1.0"/>
<line x1="195.24" y1="219.60" x2="195.24" y2="200.40" stroke="#8a8a8a" stroke-width="1.0"/>
<line x1="192.49" y1="200.40" x2="197.99" y2="200.40" stroke="#8a8a8a" stroke-width="1.0"/>
<line x1="208.51" y1="218.00" x2="208.51" y2="198.50" stroke="#8a8a8a" stroke-width="1.0"/>
<line x1="205.76" y1="198.50" x2="211.26" y2="198.50" stroke="#8a8a8a" stroke-width="1.0"/>
<line x1="115.62" y1="300.20" x2="115.62" y2="303.20" stroke="#8a8a8a" stroke-width="1.0"/>
<line x1="112.87" y1="303.20" x2="118.37" y2="303.20" stroke="#8a8a8a" stroke-width="1.0"/>
<line x1="115.62" y1="300.20" x2="115.62" y2="297.20" stroke="#8a8a8a" stroke-width="1.0"/>
<line x1="112.87" y1="297.20" x2="118.37" y2="297.20" stroke="#8a8a8a" stroke-width="1.0"/>
<line x1="128.89" y1="284.80" x2="128.89" y2="293.00" stroke="#8a8a8a" stroke-width="1.0"/>
<line x1="126.14" y1="293.00" x2="131.64" y2="293.00" stroke="#8a8a8a" stroke-width="1.0"/>
<line x1="128.89" y1="284.80" x2="128.89" y2="276.60" stroke="#8a8a8a" stroke-width="1.0"/>
<line x1="126.14" y1="276.60" x2="131.64" y2="276.60" stroke="#8a8a8a" stroke-width="1.0"/>
<line x1="142.16" y1="260.60" x2="142.16" y2="280.80" stroke="#8a8a8a" stroke-width="1.0"/>
<line x1="139.41" y1="280.80" x2="144.91" y2="280.80" stroke="#8a8a8a" stroke-width="1.0"/>
<line x1="142.16" y1="260.60" x2="142.16" y2="240.40" stroke="#8a8a8a" stroke-width="1.0"/>
<line x1="139.41" y1="240.40" x2="144.91" y2="240.40" stroke="#8a8a8a" stroke-width="1.0"/>
<line x1="155.43" y1="255.70" x2="155.43" y2="273.20" stroke="#8a8a8a" stroke-width="1.0"/>
<line x1="152.68" y1="273.20" x2="158.18" y2="273.20" stroke="#8a8a8a" stroke-width="1.0"/>
<line x1="155.43" y1="255.70" x2="155.43" y2="238.20" stroke="#8a8a8a" stroke-width="1.0"/>
<line x1="152.68" y1="238.20" x2="158.18" y2="238.20" stroke="#8a8a8a" stroke-width="1.0"/>
<line x1="168.70" y1="245.20" x2="168.70" y2="267.30" stroke="#8a8a8a" stroke-width="1.0"/>
<line x1="165.95" y1="267.30" x2="171.45" y2="267.30" stroke="#8a8a8a" stroke-width="1.0"/>
<line x1="168.70" y1="245.20" x2="168.70" y2="223.10" stroke="#8a8a8a" stroke-width="1.0"/>
<line x1="165.95" y1="223.10" x2="171.45" y2="223.10" stroke="#8a8a8a" stroke-width="1.0"/>
<line x1="181.97" y1="228.20" x2="181.97" y2="245.20" stroke="#8a8a8a" stroke-width="1.0"/>
<line x1="179.22" y1="245.20" x2="184.72" y2="245.20" stroke="#8a8a8a" stroke-width="1.0"/>
<line x1="181.97" y1="228.20" x2="181.97" y2="211.20" stroke="#8a8a8a" stroke-width="1.0"/>
<line x1="179.22" y1="211.20" x2="184.72" y2="211.20" stroke="#8a8a8a" stroke-width="1.0"/>
<line x1="195.24" y1="226.60" x2="195.24" y2="242.50" stroke="#8a8a8a" stroke-width="1.0"/>
<line x1="192.49" y1="242.50" x2="197.99" y2="242.50" stroke="#8a8a8a" stroke-width="1.0"/>
<line x1="195.24" y1="226.60" x2="195.24" y2="210.70" stroke="#8a8a8a" stroke-width="1.0"/>
<line x1="192.49" y1="210.70" x2="197.99" y2="210.70" stroke="#8a8a8a" stroke-width="1.0"/>
<line x1="208.51" y1="231.50" x2="208.51" y2="248.20" stroke="#8a8a8a" stroke-width="1.0"/>
<line x1="205.76" y1="248.20" x2="211.26" y2="248.20" stroke="#8a8a8a" stroke-width="1.0"/>
<line x1="208.51" y1="231.50" x2="208.51" y2="214.80" stroke="#8a8a8a" stroke-width="1.0"/>
<line x1="205.76" y1="214.80" x2="211.26" y2="214.80" stroke="#8a8a8a" stroke-width="1.0"/>
<polyline points="36.00,301.80 49.27,301.80 62.54,301.80 75.81,301.80 89.08,301.80 102.35,301.80 115.62,299.60 128.89,275.90 142.16,260.60 155.43,255.70 168.70,235.80 181.97,223.20 195.24,219.60 208.51,218.00" fill="none" stroke="#000" stroke-width="1.2" stroke-linejoin="miter"/>
<polyline points="36.00,301.80 49.27,301.80 62.54,301.80 75.81,301.80 89.08,301.80 102.35,301.80 115.62,300.20 128.89,284.80 142.16,260.60 155.43,255.70 168.70,245.20 181.97,228.20 195.24,226.60 208.51,231.50" fill="none" stroke="#000" stroke-width="1.2" stroke-linejoin="miter"/>
<circle cx="36.00" cy="301.80" r="2.55" fill="#000"/>
<circle cx="49.27" cy="301.80" r="2.55" fill="#000"/>
<circle cx="62.54" cy="301.80" r="2.55" fill="#000"/>
<circle cx="75.81" cy="301.80" r="2.55" fill="#000"/>
<circle cx="89.08" cy="301.80" r="2.55" fill="#000"/>
<circle cx="102.35" cy="301.80" r="2.55" fill="#000"/>
<circle cx="115.62" cy="299.60" r="2.55" fill="#000"/>
<circle cx="128.89" cy="275.90" r="2.55" fill="#000"/>
<circle cx="142.16" cy="260.60" r="2.55" fill="#000"/>
<circle cx="155.43" cy="255.70" r="2.55" fill="#000"/>
<circle cx="168.70" cy="235.80" r="2.55" fill="#000"/>
<circle cx="181.97" cy="223.20" r="2.55" fill="#000"/>
<circle cx="195.24" cy="219.60" r="2.55" fill="#000"/>
<circle cx="208.51" cy="218.00" r="2.55" fill="#000"/>
<circle cx="36.00" cy="301.80" r="2.55" fill="#fff" stroke="#000" stroke-width="1.1"/>
<circle cx="49.27" cy="301.80" r="2.55" fill="#fff" stroke="#000" stroke-width="1.1"/>
<circle cx="62.54" cy="301.80" r="2.55" fill="#fff" stroke="#000" stroke-width="1.1"/>
<circle cx="75.81" cy="301.80" r="2.55" fill="#fff" stroke="#000" stroke-width="1.1"/>
<circle cx="89.08" cy="301.80" r="2.55" fill="#fff" stroke="#000" stroke-width="1.1"/>
<circle cx="102.35" cy="301.80" r="2.55" fill="#fff" stroke="#000" stroke-width="1.1"/>
<circle cx="115.62" cy="300.20" r="2.55" fill="#fff" stroke="#000" stroke-width="1.1"/>
<circle cx="128.89" cy="284.80" r="2.55" fill="#fff" stroke="#000" stroke-width="1.1"/>
<circle cx="142.16" cy="260.60" r="2.55" fill="#fff" stroke="#000" stroke-width="1.1"/>
<circle cx="155.43" cy="255.70" r="2.55" fill="#fff" stroke="#000" stroke-width="1.1"/>
<circle cx="168.70" cy="245.20" r="2.55" fill="#fff" stroke="#000" stroke-width="1.1"/>
<circle cx="181.97" cy="228.20" r="2.55" fill="#fff" stroke="#000" stroke-width="1.1"/>
<circle cx="195.24" cy="226.60" r="2.55" fill="#fff" stroke="#000" stroke-width="1.1"/>
<circle cx="208.51" cy="231.50" r="2.55" fill="#fff" stroke="#000" stroke-width="1.1"/>
<line x1="313.90" y1="174.45" x2="313.90" y2="305.00" stroke="#2a2a2a" stroke-width="1.45"/>
<line x1="310.00" y1="301.80" x2="313.90" y2="301.80" stroke="#1a1a1a" stroke-width="1.1"/>
<text transform="translate(309.30,305.00) scale(0.88,1)" font-size="9.6" text-anchor="end" font-weight="bold" class="b">0</text>
<line x1="310.00" y1="273.50" x2="313.90" y2="273.50" stroke="#1a1a1a" stroke-width="1.1"/>
<text transform="translate(309.30,276.70) scale(0.88,1)" font-size="9.6" text-anchor="end" font-weight="bold" class="b">1</text>
<line x1="310.00" y1="245.20" x2="313.90" y2="245.20" stroke="#1a1a1a" stroke-width="1.1"/>
<text transform="translate(309.30,248.40) scale(0.88,1)" font-size="9.6" text-anchor="end" font-weight="bold" class="b">2</text>
<line x1="310.00" y1="216.90" x2="313.90" y2="216.90" stroke="#1a1a1a" stroke-width="1.1"/>
<text transform="translate(309.30,220.10) scale(0.88,1)" font-size="9.6" text-anchor="end" font-weight="bold" class="b">3</text>
<line x1="310.00" y1="188.60" x2="313.90" y2="188.60" stroke="#1a1a1a" stroke-width="1.1"/>
<text transform="translate(309.30,191.80) scale(0.88,1)" font-size="9.6" text-anchor="end" font-weight="bold" class="b">4</text>
<line x1="311.70" y1="287.65" x2="313.90" y2="287.65" stroke="#1a1a1a" stroke-width="1.1"/>
<line x1="311.70" y1="259.35" x2="313.90" y2="259.35" stroke="#1a1a1a" stroke-width="1.1"/>
<line x1="311.70" y1="231.05" x2="313.90" y2="231.05" stroke="#1a1a1a" stroke-width="1.1"/>
<line x1="311.70" y1="202.75" x2="313.90" y2="202.75" stroke="#1a1a1a" stroke-width="1.1"/>
<line x1="311.70" y1="174.45" x2="313.90" y2="174.45" stroke="#1a1a1a" stroke-width="1.1"/>
<line x1="313.90" y1="301.80" x2="506.85" y2="301.80" stroke="#2a2a2a" stroke-width="1.45"/>
<line x1="314.25" y1="301.80" x2="314.25" y2="305.20" stroke="#1a1a1a" stroke-width="1.1"/>
<text transform="translate(314.25,316.00) scale(0.88,1)" font-size="9.6" text-anchor="middle" font-weight="bold" class="b">0</text>
<line x1="326.25" y1="301.80" x2="326.25" y2="304.00" stroke="#1a1a1a" stroke-width="1.1"/>
<line x1="338.25" y1="301.80" x2="338.25" y2="305.20" stroke="#1a1a1a" stroke-width="1.1"/>
<text transform="translate(338.25,316.00) scale(0.88,1)" font-size="9.6" text-anchor="middle" font-weight="bold" class="b">2</text>
<line x1="350.25" y1="301.80" x2="350.25" y2="304.00" stroke="#1a1a1a" stroke-width="1.1"/>
<line x1="362.25" y1="301.80" x2="362.25" y2="305.20" stroke="#1a1a1a" stroke-width="1.1"/>
<text transform="translate(362.25,316.00) scale(0.88,1)" font-size="9.6" text-anchor="middle" font-weight="bold" class="b">4</text>
<line x1="374.25" y1="301.80" x2="374.25" y2="304.00" stroke="#1a1a1a" stroke-width="1.1"/>
<line x1="386.25" y1="301.80" x2="386.25" y2="305.20" stroke="#1a1a1a" stroke-width="1.1"/>
<text transform="translate(386.25,316.00) scale(0.88,1)" font-size="9.6" text-anchor="middle" font-weight="bold" class="b">6</text>
<line x1="398.25" y1="301.80" x2="398.25" y2="304.00" stroke="#1a1a1a" stroke-width="1.1"/>
<line x1="410.25" y1="301.80" x2="410.25" y2="305.20" stroke="#1a1a1a" stroke-width="1.1"/>
<text transform="translate(410.25,316.00) scale(0.88,1)" font-size="9.6" text-anchor="middle" font-weight="bold" class="b">8</text>
<line x1="422.25" y1="301.80" x2="422.25" y2="304.00" stroke="#1a1a1a" stroke-width="1.1"/>
<line x1="434.25" y1="301.80" x2="434.25" y2="305.20" stroke="#1a1a1a" stroke-width="1.1"/>
<text transform="translate(434.25,316.00) scale(0.88,1)" font-size="9.6" text-anchor="middle" font-weight="bold" class="b">10</text>
<line x1="446.25" y1="301.80" x2="446.25" y2="304.00" stroke="#1a1a1a" stroke-width="1.1"/>
<line x1="458.25" y1="301.80" x2="458.25" y2="305.20" stroke="#1a1a1a" stroke-width="1.1"/>
<text transform="translate(458.25,316.00) scale(0.88,1)" font-size="9.6" text-anchor="middle" font-weight="bold" class="b">12</text>
<line x1="470.25" y1="301.80" x2="470.25" y2="304.00" stroke="#1a1a1a" stroke-width="1.1"/>
<line x1="482.25" y1="301.80" x2="482.25" y2="305.20" stroke="#1a1a1a" stroke-width="1.1"/>
<text transform="translate(482.25,316.00) scale(0.88,1)" font-size="9.6" text-anchor="middle" font-weight="bold" class="b">14</text>
<line x1="494.25" y1="301.80" x2="494.25" y2="304.00" stroke="#1a1a1a" stroke-width="1.1"/>
<line x1="506.25" y1="301.80" x2="506.25" y2="305.20" stroke="#1a1a1a" stroke-width="1.1"/>
<text transform="translate(506.25,316.00) scale(0.88,1)" font-size="9.6" text-anchor="middle" font-weight="bold" class="b">16</text>
<text x="357.60" y="331.30" font-size="11.5" text-anchor="start" font-weight="normal" >Days post-induction</text>
<line x1="320.60" y1="183.10" x2="334.80" y2="183.10" stroke="#000" stroke-width="1.2"/>
<circle cx="327.70" cy="183.10" r="2.3" fill="#000"/>
<text x="342.60" y="188.00" font-size="11.5" text-anchor="start" font-weight="normal" >PBS</text>
<text x="370.40" y="188.00" font-size="11.5" text-anchor="start" font-weight="normal" >+</text>
<text transform="translate(380.4,188.0) scale(1.3,1)" font-size="12" font-family="Liberation Serif">&#945;</text>
<text x="389.60" y="188.00" font-size="11.5" text-anchor="start" font-weight="normal" >IL-5</text>
<line x1="320.60" y1="198.10" x2="334.80" y2="198.10" stroke="#000" stroke-width="1.2"/>
<circle cx="327.70" cy="198.10" r="2.3" fill="#fff" stroke="#000" stroke-width="1.1"/>
<text x="342.60" y="202.40" font-size="11.5" text-anchor="start" font-weight="normal" >FHES</text>
<text x="377.10" y="202.40" font-size="11.5" text-anchor="start" font-weight="normal" >+</text>
<text transform="translate(387.3,202.4) scale(1.3,1)" font-size="12" font-family="Liberation Serif">&#945;</text>
<text x="396.90" y="202.40" font-size="11.5" text-anchor="start" font-weight="normal" >IL-5</text>
<line x1="398.25" y1="297.70" x2="398.25" y2="294.20" stroke="#8a8a8a" stroke-width="1.0"/>
<line x1="395.50" y1="294.20" x2="401.00" y2="294.20" stroke="#8a8a8a" stroke-width="1.0"/>
<line x1="410.25" y1="297.70" x2="410.25" y2="294.20" stroke="#8a8a8a" stroke-width="1.0"/>
<line x1="407.50" y1="294.20" x2="413.00" y2="294.20" stroke="#8a8a8a" stroke-width="1.0"/>
<line x1="422.25" y1="297.70" x2="422.25" y2="294.20" stroke="#8a8a8a" stroke-width="1.0"/>
<line x1="419.50" y1="294.20" x2="425.00" y2="294.20" stroke="#8a8a8a" stroke-width="1.0"/>
<line x1="446.25" y1="280.40" x2="446.25" y2="244.90" stroke="#8a8a8a" stroke-width="1.0"/>
<line x1="443.50" y1="244.90" x2="449.00" y2="244.90" stroke="#8a8a8a" stroke-width="1.0"/>
<line x1="458.25" y1="240.00" x2="458.25" y2="216.60" stroke="#8a8a8a" stroke-width="1.0"/>
<line x1="455.50" y1="216.60" x2="461.00" y2="216.60" stroke="#8a8a8a" stroke-width="1.0"/>
<line x1="470.25" y1="213.30" x2="470.25" y2="188.50" stroke="#8a8a8a" stroke-width="1.0"/>
<line x1="467.50" y1="188.50" x2="473.00" y2="188.50" stroke="#8a8a8a" stroke-width="1.0"/>
<line x1="482.25" y1="193.70" x2="482.25" y2="188.80" stroke="#8a8a8a" stroke-width="1.0"/>
<line x1="479.50" y1="188.80" x2="485.00" y2="188.80" stroke="#8a8a8a" stroke-width="1.0"/>
<line x1="494.25" y1="189.90" x2="494.25" y2="181.80" stroke="#8a8a8a" stroke-width="1.0"/>
<line x1="491.50" y1="181.80" x2="497.00" y2="181.80" stroke="#8a8a8a" stroke-width="1.0"/>
<line x1="458.25" y1="258.90" x2="458.25" y2="221.20" stroke="#8a8a8a" stroke-width="1.0"/>
<line x1="455.50" y1="221.20" x2="461.00" y2="221.20" stroke="#8a8a8a" stroke-width="1.0"/>
<line x1="470.25" y1="241.40" x2="470.25" y2="200.70" stroke="#8a8a8a" stroke-width="1.0"/>
<line x1="467.50" y1="200.70" x2="473.00" y2="200.70" stroke="#8a8a8a" stroke-width="1.0"/>
<line x1="482.25" y1="205.60" x2="482.25" y2="190.40" stroke="#8a8a8a" stroke-width="1.0"/>
<line x1="479.50" y1="190.40" x2="485.00" y2="190.40" stroke="#8a8a8a" stroke-width="1.0"/>
<polyline points="362.25,301.80 374.25,301.80 386.25,299.60 398.25,297.70 410.25,297.70 422.25,297.70 434.25,302.30 446.25,280.40 458.25,240.00 470.25,213.30 482.25,193.70 494.25,189.90 506.25,188.30" fill="none" stroke="#000" stroke-width="1.2" stroke-linejoin="miter"/>
<polyline points="362.25,301.80 374.25,301.80 386.25,301.80 398.25,301.80 410.25,301.80 422.25,301.80 434.25,298.20 446.25,273.10 458.25,258.90 470.25,241.40 482.25,205.60 494.25,184.70 506.25,181.10" fill="none" stroke="#000" stroke-width="1.2" stroke-linejoin="miter"/>
<circle cx="362.25" cy="301.80" r="2.55" fill="#000"/>
<circle cx="374.25" cy="301.80" r="2.55" fill="#000"/>
<circle cx="386.25" cy="299.60" r="2.55" fill="#000"/>
<circle cx="398.25" cy="297.70" r="2.55" fill="#000"/>
<circle cx="410.25" cy="297.70" r="2.55" fill="#000"/>
<circle cx="422.25" cy="297.70" r="2.55" fill="#000"/>
<circle cx="434.25" cy="302.30" r="2.55" fill="#000"/>
<circle cx="446.25" cy="280.40" r="2.55" fill="#000"/>
<circle cx="458.25" cy="240.00" r="2.55" fill="#000"/>
<circle cx="470.25" cy="213.30" r="2.55" fill="#000"/>
<circle cx="482.25" cy="193.70" r="2.55" fill="#000"/>
<circle cx="494.25" cy="189.90" r="2.55" fill="#000"/>
<circle cx="506.25" cy="188.30" r="2.55" fill="#000"/>
<circle cx="362.25" cy="301.80" r="2.55" fill="#fff" stroke="#000" stroke-width="1.1"/>
<circle cx="374.25" cy="301.80" r="2.55" fill="#fff" stroke="#000" stroke-width="1.1"/>
<circle cx="386.25" cy="301.80" r="2.55" fill="#fff" stroke="#000" stroke-width="1.1"/>
<circle cx="398.25" cy="301.80" r="2.55" fill="#fff" stroke="#000" stroke-width="1.1"/>
<circle cx="410.25" cy="301.80" r="2.55" fill="#fff" stroke="#000" stroke-width="1.1"/>
<circle cx="422.25" cy="301.80" r="2.55" fill="#fff" stroke="#000" stroke-width="1.1"/>
<circle cx="434.25" cy="298.20" r="2.55" fill="#fff" stroke="#000" stroke-width="1.1"/>
<circle cx="446.25" cy="273.10" r="2.55" fill="#fff" stroke="#000" stroke-width="1.1"/>
<circle cx="458.25" cy="258.90" r="2.55" fill="#fff" stroke="#000" stroke-width="1.1"/>
<circle cx="470.25" cy="241.40" r="2.55" fill="#fff" stroke="#000" stroke-width="1.1"/>
<circle cx="482.25" cy="205.60" r="2.55" fill="#fff" stroke="#000" stroke-width="1.1"/>
<circle cx="494.25" cy="184.70" r="2.55" fill="#fff" stroke="#000" stroke-width="1.1"/>
<circle cx="506.25" cy="181.10" r="2.55" fill="#fff" stroke="#000" stroke-width="1.1"/>
<line x1="35.60" y1="360.00" x2="35.60" y2="487.20" stroke="#2a2a2a" stroke-width="1.45"/>
<line x1="31.60" y1="487.20" x2="35.60" y2="487.20" stroke="#1a1a1a" stroke-width="1.1"/>
<text x="31.00" y="490.40" font-size="9.0" text-anchor="end" font-weight="bold" class="b">0.0</text>
<line x1="31.60" y1="444.75" x2="35.60" y2="444.75" stroke="#1a1a1a" stroke-width="1.1"/>
<text x="31.00" y="447.95" font-size="9.0" text-anchor="end" font-weight="bold" class="b">0.5</text>
<line x1="31.60" y1="402.30" x2="35.60" y2="402.30" stroke="#1a1a1a" stroke-width="1.1"/>
<text x="31.00" y="405.50" font-size="9.0" text-anchor="end" font-weight="bold" class="b">1.0</text>
<line x1="31.60" y1="359.85" x2="35.60" y2="359.85" stroke="#1a1a1a" stroke-width="1.1"/>
<text x="31.00" y="363.05" font-size="9.0" text-anchor="end" font-weight="bold" class="b">1.5</text>
<line x1="35.60" y1="487.20" x2="162.70" y2="487.20" stroke="#2a2a2a" stroke-width="1.45"/>
<rect x="40.00" y="441.30" width="21.60" height="45.90" fill="#000"/>
<line x1="50.80" y1="441.30" x2="50.80" y2="427.80" stroke="#2a2a2a" stroke-width="1.2"/>
<line x1="45.20" y1="427.80" x2="56.40" y2="427.80" stroke="#2a2a2a" stroke-width="1.2"/>
<line x1="50.80" y1="487.20" x2="50.80" y2="490.80" stroke="#1a1a1a" stroke-width="1.1"/>
<rect x="72.00" y="398.20" width="21.30" height="89.00" fill="#000"/>
<line x1="82.65" y1="398.20" x2="82.65" y2="390.20" stroke="#2a2a2a" stroke-width="1.2"/>
<line x1="77.05" y1="390.20" x2="88.25" y2="390.20" stroke="#2a2a2a" stroke-width="1.2"/>
<line x1="82.65" y1="487.20" x2="82.65" y2="490.80" stroke="#1a1a1a" stroke-width="1.1"/>
<rect x="103.60" y="472.40" width="21.70" height="14.80" fill="#000"/>
<line x1="114.45" y1="472.40" x2="114.45" y2="468.90" stroke="#2a2a2a" stroke-width="1.2"/>
<line x1="108.85" y1="468.90" x2="120.05" y2="468.90" stroke="#2a2a2a" stroke-width="1.2"/>
<line x1="114.45" y1="487.20" x2="114.45" y2="490.80" stroke="#1a1a1a" stroke-width="1.1"/>
<rect x="135.30" y="464.40" width="22.00" height="22.80" fill="#000"/>
<line x1="146.30" y1="464.40" x2="146.30" y2="460.40" stroke="#2a2a2a" stroke-width="1.2"/>
<line x1="140.70" y1="460.40" x2="151.90" y2="460.40" stroke="#2a2a2a" stroke-width="1.2"/>
<line x1="146.30" y1="487.20" x2="146.30" y2="490.80" stroke="#1a1a1a" stroke-width="1.1"/>
<text x="0.50" y="359.80" font-size="19.5" text-anchor="start" font-weight="normal" class="n">C</text>
<text transform="translate(13.0,466.8) rotate(-90) scale(0.965,1)" font-size="12">Eosinophils x10<tspan dx="2" dy="-5" font-size="9">6</tspan></text>
<polyline points="46.00,408.00 46.00,382.60 82.40,382.60" fill="none" stroke="#a0a0a0" stroke-width="1.1" stroke-linejoin="miter"/>
<polygon points="62.60,372.00 63.33,373.49 64.98,373.73 63.79,374.89 64.07,376.52 62.60,375.75 61.13,376.52 61.41,374.89 60.22,373.73 61.87,373.49" fill="#111"/>
<polyline points="86.50,362.10 146.00,362.10 146.00,435.80" fill="none" stroke="#a0a0a0" stroke-width="1.1" stroke-linejoin="miter"/>
<polygon points="115.20,352.00 115.93,353.49 117.58,353.73 116.39,354.89 116.67,356.52 115.20,355.75 113.73,356.52 114.01,354.89 112.82,353.73 114.47,353.49" fill="#111"/>
<polygon points="119.60,352.00 120.33,353.49 121.98,353.73 120.79,354.89 121.07,356.52 119.60,355.75 118.13,356.52 118.41,354.89 117.22,353.73 118.87,353.49" fill="#111"/>
<polygon points="124.00,352.00 124.73,353.49 126.38,353.73 125.19,354.89 125.47,356.52 124.00,355.75 122.53,356.52 122.81,354.89 121.62,353.73 123.27,353.49" fill="#111"/>
<text x="50.80" y="501.70" font-size="11.8" text-anchor="middle" font-weight="normal" >PBS</text>
<text x="82.60" y="501.70" font-size="11.8" text-anchor="middle" font-weight="normal" >FHES</text>
<text x="114.40" y="501.70" font-size="11.8" text-anchor="middle" font-weight="normal" >PBS</text>
<text x="146.30" y="501.70" font-size="11.8" text-anchor="middle" font-weight="normal" >FHES</text>
<line x1="37.50" y1="505.60" x2="95.30" y2="505.60" stroke="#777" stroke-width="1.1"/>
<line x1="100.40" y1="505.60" x2="157.30" y2="505.60" stroke="#777" stroke-width="1.1"/>
<text x="66.60" y="516.40" font-size="11.8" text-anchor="middle" font-weight="normal" >Control Ig</text>
<text x="128.80" y="516.40" font-size="11.8" text-anchor="middle" font-weight="normal" >anti-IL-5</text>
<line x1="215.00" y1="359.40" x2="215.00" y2="487.20" stroke="#2a2a2a" stroke-width="1.45"/>
<line x1="211.00" y1="487.20" x2="215.00" y2="487.20" stroke="#1a1a1a" stroke-width="1.1"/>
<text x="210.40" y="490.40" font-size="9.0" text-anchor="end" font-weight="bold" class="b">0</text>
<line x1="211.00" y1="455.25" x2="215.00" y2="455.25" stroke="#1a1a1a" stroke-width="1.1"/>
<text x="210.40" y="458.45" font-size="9.0" text-anchor="end" font-weight="bold" class="b">2000</text>
<line x1="211.00" y1="423.30" x2="215.00" y2="423.30" stroke="#1a1a1a" stroke-width="1.1"/>
<text x="210.40" y="426.50" font-size="9.0" text-anchor="end" font-weight="bold" class="b">4000</text>
<line x1="211.00" y1="391.35" x2="215.00" y2="391.35" stroke="#1a1a1a" stroke-width="1.1"/>
<text x="210.40" y="394.55" font-size="9.0" text-anchor="end" font-weight="bold" class="b">6000</text>
<line x1="211.00" y1="359.40" x2="215.00" y2="359.40" stroke="#1a1a1a" stroke-width="1.1"/>
<text x="210.40" y="362.60" font-size="9.0" text-anchor="end" font-weight="bold" class="b">8000</text>
<line x1="215.00" y1="487.20" x2="342.40" y2="487.20" stroke="#2a2a2a" stroke-width="1.45"/>
<rect x="220.00" y="423.10" width="22.00" height="64.10" fill="#000"/>
<line x1="231.00" y1="423.10" x2="231.00" y2="394.30" stroke="#2a2a2a" stroke-width="1.2"/>
<line x1="225.40" y1="394.30" x2="236.60" y2="394.30" stroke="#2a2a2a" stroke-width="1.2"/>
<line x1="231.00" y1="487.20" x2="231.00" y2="490.80" stroke="#1a1a1a" stroke-width="1.1"/>
<rect x="252.30" y="458.40" width="21.90" height="28.80" fill="#000"/>
<line x1="263.25" y1="458.40" x2="263.25" y2="444.10" stroke="#2a2a2a" stroke-width="1.2"/>
<line x1="257.65" y1="444.10" x2="268.85" y2="444.10" stroke="#2a2a2a" stroke-width="1.2"/>
<line x1="263.25" y1="487.20" x2="263.25" y2="490.80" stroke="#1a1a1a" stroke-width="1.1"/>
<rect x="284.00" y="416.30" width="22.00" height="70.90" fill="#000"/>
<line x1="295.00" y1="416.30" x2="295.00" y2="403.80" stroke="#2a2a2a" stroke-width="1.2"/>
<line x1="289.40" y1="403.80" x2="300.60" y2="403.80" stroke="#2a2a2a" stroke-width="1.2"/>
<line x1="295.00" y1="487.20" x2="295.00" y2="490.80" stroke="#1a1a1a" stroke-width="1.1"/>
<rect x="316.20" y="412.60" width="22.10" height="74.60" fill="#000"/>
<line x1="327.25" y1="412.60" x2="327.25" y2="387.60" stroke="#2a2a2a" stroke-width="1.2"/>
<line x1="321.65" y1="387.60" x2="332.85" y2="387.60" stroke="#2a2a2a" stroke-width="1.2"/>
<line x1="327.25" y1="487.20" x2="327.25" y2="490.80" stroke="#1a1a1a" stroke-width="1.1"/>
<text x="168.70" y="359.30" font-size="19.5" text-anchor="start" font-weight="normal" class="n">D</text>
<text transform="translate(182.9,458.4) rotate(-90) scale(0.99,1)" font-size="12">IFN-<tspan font-family="Liberation Serif" font-size="12.5">&#947;</tspan><tspan dx="-0.6" dy="-5.5" font-size="8">+</tspan><tspan dy="5.5"> T cells</tspan></text>
<text x="231.00" y="501.70" font-size="11.8" text-anchor="middle" font-weight="normal" >PBS</text>
<text x="263.20" y="501.70" font-size="11.8" text-anchor="middle" font-weight="normal" >FHES</text>
<text x="295.00" y="501.70" font-size="11.8" text-anchor="middle" font-weight="normal" >PBS</text>
<text x="327.20" y="501.70" font-size="11.8" text-anchor="middle" font-weight="normal" >FHES</text>
<line x1="217.50" y1="505.30" x2="275.20" y2="505.30" stroke="#777" stroke-width="1.1"/>
<line x1="281.50" y1="505.30" x2="340.90" y2="505.30" stroke="#777" stroke-width="1.1"/>
<text x="246.40" y="516.40" font-size="11.8" text-anchor="middle" font-weight="normal" >Control Ig</text>
<text x="309.50" y="516.40" font-size="11.8" text-anchor="middle" font-weight="normal" >anti-IL-5</text>
<line x1="390.60" y1="359.00" x2="390.60" y2="487.40" stroke="#2a2a2a" stroke-width="1.45"/>
<line x1="386.60" y1="487.40" x2="390.60" y2="487.40" stroke="#1a1a1a" stroke-width="1.1"/>
<text x="386.00" y="490.60" font-size="9.0" text-anchor="end" font-weight="bold" class="b">0</text>
<line x1="386.60" y1="447.35" x2="390.60" y2="447.35" stroke="#1a1a1a" stroke-width="1.1"/>
<text x="386.00" y="450.55" font-size="9.0" text-anchor="end" font-weight="bold" class="b">1000</text>
<line x1="386.60" y1="407.30" x2="390.60" y2="407.30" stroke="#1a1a1a" stroke-width="1.1"/>
<text x="386.00" y="410.50" font-size="9.0" text-anchor="end" font-weight="bold" class="b">2000</text>
<line x1="386.60" y1="367.25" x2="390.60" y2="367.25" stroke="#1a1a1a" stroke-width="1.1"/>
<text x="386.00" y="370.45" font-size="9.0" text-anchor="end" font-weight="bold" class="b">3000</text>
<line x1="390.60" y1="487.40" x2="518.00" y2="487.40" stroke="#2a2a2a" stroke-width="1.45"/>
<rect x="395.60" y="453.30" width="21.80" height="34.10" fill="#000"/>
<line x1="406.50" y1="453.30" x2="406.50" y2="443.30" stroke="#2a2a2a" stroke-width="1.2"/>
<line x1="400.90" y1="443.30" x2="412.10" y2="443.30" stroke="#2a2a2a" stroke-width="1.2"/>
<line x1="406.50" y1="487.40" x2="406.50" y2="491.00" stroke="#1a1a1a" stroke-width="1.1"/>
<rect x="427.60" y="471.30" width="21.60" height="16.10" fill="#000"/>
<line x1="438.40" y1="471.30" x2="438.40" y2="465.70" stroke="#2a2a2a" stroke-width="1.2"/>
<line x1="432.80" y1="465.70" x2="444.00" y2="465.70" stroke="#2a2a2a" stroke-width="1.2"/>
<line x1="438.40" y1="487.40" x2="438.40" y2="491.00" stroke="#1a1a1a" stroke-width="1.1"/>
<rect x="460.00" y="409.30" width="21.80" height="78.10" fill="#000"/>
<line x1="470.90" y1="409.30" x2="470.90" y2="399.50" stroke="#2a2a2a" stroke-width="1.2"/>
<line x1="465.30" y1="399.50" x2="476.50" y2="399.50" stroke="#2a2a2a" stroke-width="1.2"/>
<line x1="470.90" y1="487.40" x2="470.90" y2="491.00" stroke="#1a1a1a" stroke-width="1.1"/>
<rect x="491.80" y="392.10" width="22.00" height="95.30" fill="#000"/>
<line x1="502.80" y1="392.10" x2="502.80" y2="361.30" stroke="#2a2a2a" stroke-width="1.2"/>
<line x1="497.20" y1="361.30" x2="508.40" y2="361.30" stroke="#2a2a2a" stroke-width="1.2"/>
<line x1="502.80" y1="487.40" x2="502.80" y2="491.00" stroke="#1a1a1a" stroke-width="1.1"/>
<text transform="translate(359.1,458.4) rotate(-90) scale(1.0,1)" font-size="12">IL-17<tspan dy="-5" font-size="8">+</tspan><tspan dy="5"> T cells</tspan></text>
<polyline points="438.80,444.00 438.80,357.50 502.40,357.50" fill="none" stroke="#a0a0a0" stroke-width="1.1" stroke-linejoin="miter"/>
<polygon points="467.40,350.70 468.13,352.19 469.78,352.43 468.59,353.59 468.87,355.22 467.40,354.45 465.93,355.22 466.21,353.59 465.02,352.43 466.67,352.19" fill="#111"/>
<polygon points="471.80,350.70 472.53,352.19 474.18,352.43 472.99,353.59 473.27,355.22 471.80,354.45 470.33,355.22 470.61,353.59 469.42,352.43 471.07,352.19" fill="#111"/>
<polygon points="476.20,350.70 476.93,352.19 478.58,352.43 477.39,353.59 477.67,355.22 476.20,354.45 474.73,355.22 475.01,353.59 473.82,352.43 475.47,352.19" fill="#111"/>
<text x="406.50" y="501.70" font-size="11.8" text-anchor="middle" font-weight="normal" >PBS</text>
<text x="438.40" y="501.70" font-size="11.8" text-anchor="middle" font-weight="normal" >FHES</text>
<text x="470.90" y="501.70" font-size="11.8" text-anchor="middle" font-weight="normal" >PBS</text>
<text x="502.80" y="501.70" font-size="11.8" text-anchor="middle" font-weight="normal" >FHES</text>
<line x1="393.00" y1="505.30" x2="451.00" y2="505.30" stroke="#777" stroke-width="1.1"/>
<line x1="457.00" y1="505.30" x2="517.00" y2="505.30" stroke="#777" stroke-width="1.1"/>
<text x="422.40" y="516.40" font-size="11.8" text-anchor="middle" font-weight="normal" >Control Ig</text>
<text x="486.80" y="516.40" font-size="11.8" text-anchor="middle" font-weight="normal" >anti-IL-5</text>
</svg></body></html>
